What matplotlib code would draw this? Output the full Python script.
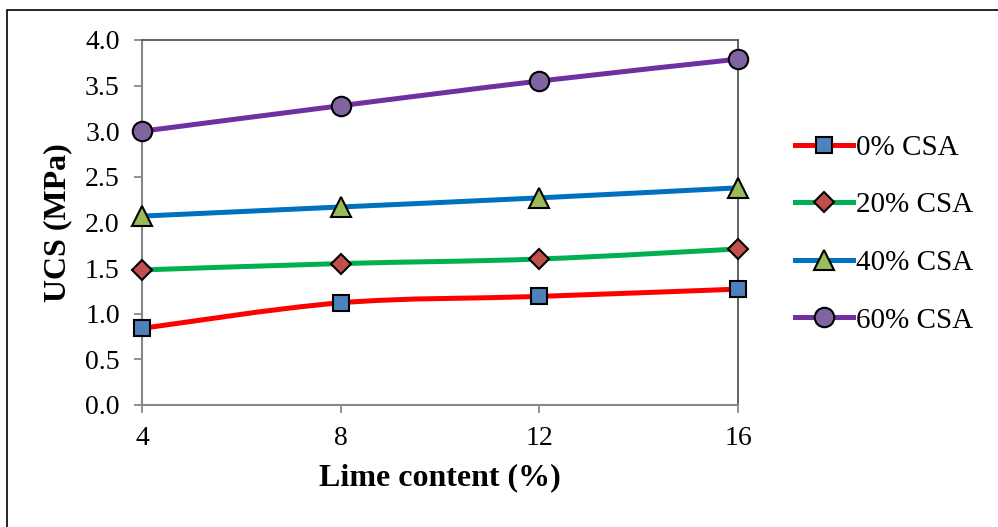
import matplotlib
matplotlib.use('Agg')
import matplotlib.pyplot as plt
from matplotlib.path import Path
from matplotlib.patches import PathPatch, Rectangle
from matplotlib.lines import Line2D

plt.rcParams['font.family'] = ['Liberation Serif', 'DejaVu Serif']

# data
lime = [4, 8, 12, 16]
csa_0 = [0.84, 1.12, 1.19, 1.27]
csa_20 = [1.48, 1.55, 1.60, 1.71]
csa_40 = [2.07, 2.17, 2.27, 2.38]
csa_60 = [3.00, 3.28, 3.55, 3.79]
labels = ['0% CSA', '20% CSA', '40% CSA', '60% CSA']

series = [csa_0, csa_20, csa_40, csa_60]
line_colors = ['#FF0000', '#00B050', '#0070C0', '#7030A0']
face_colors = ['#4F81BD', '#C0504D', '#9BBB59', '#8064A2']
markers = ['s', 'D', '^', 'o']
msizes = [12, 10.5, 14, 14]


def smooth_path(xs, ys):
    # Excel-like smoothed line: cubic Bezier through the points
    pts = list(zip(xs, ys))
    verts = [pts[0]]
    codes = [Path.MOVETO]
    n = len(pts)
    for i in range(n - 1):
        p0 = pts[i - 1] if i > 0 else pts[i]
        p1 = pts[i]
        p2 = pts[i + 1]
        p3 = pts[i + 2] if i + 2 < n else pts[i + 1]
        c1 = (p1[0] + (p2[0] - p0[0]) / 6, p1[1] + (p2[1] - p0[1]) / 6)
        c2 = (p2[0] - (p3[0] - p1[0]) / 6, p2[1] - (p3[1] - p1[1]) / 6)
        verts += [c1, c2, p2]
        codes += [Path.CURVE4] * 3
    return Path(verts, codes)


fig = plt.figure(figsize=(9.98, 5.27), dpi=100)
ax = fig.add_axes([0.1423, 0.2315, 0.5972, 0.6926])

handles = []
for ys, lc, fc, m, ms, lab in zip(series, line_colors, face_colors, markers, msizes, labels):
    ax.add_patch(PathPatch(smooth_path(lime, ys), facecolor='none', edgecolor=lc,
                           lw=3.6, capstyle='round', zorder=2))
    ax.plot(lime, ys, linestyle='none', marker=m, markersize=ms, markerfacecolor=fc,
            markeredgecolor='black', markeredgewidth=1.5, zorder=3, clip_on=False)
    handles.append(Line2D([], [], color=lc, lw=3.6, marker=m, markersize=ms,
                          markerfacecolor=fc, markeredgecolor='black', markeredgewidth=1.5,
                          label=lab))

ax.set_xlim(4, 16)
ax.set_ylim(0, 4.0)
ax.set_xticks(lime)
ax.set_yticks([0, 0.5, 1.0, 1.5, 2.0, 2.5, 3.0, 3.5, 4.0])
ax.set_yticklabels(['%.1f' % v for v in ax.get_yticks()])
ax.tick_params(axis='both', labelsize=20, color='#888888', length=6, width=1.3)
ax.tick_params(axis='x', pad=9)
ax.tick_params(axis='y', pad=10)

for s in ['left', 'bottom']:
    ax.spines[s].set_color('#888888')
    ax.spines[s].set_linewidth(1.5)
for s in ['top', 'right']:
    ax.spines[s].set_color('#555555')
    ax.spines[s].set_linewidth(1.3)

ax.set_xlabel('Lime content (%)', fontsize=23, fontweight='bold', labelpad=9)
ax.set_ylabel('UCS (MPa)', fontsize=23, fontweight='bold', labelpad=9)

fig.legend(handles=handles, loc='center left', bbox_to_anchor=(0.785, 0.556),
           frameon=False, fontsize=21, handlelength=2.0, handletextpad=0.1,
           labelspacing=1.07, borderaxespad=0)

# outer chart border (cut off at right and bottom)
fig.patches.append(Rectangle((0.007, -0.1), 1.2, 0.981 + 0.1, transform=fig.transFigure,
                             fill=False, edgecolor='black', lw=1.2))

fig.savefig('out.png', dpi=100)
